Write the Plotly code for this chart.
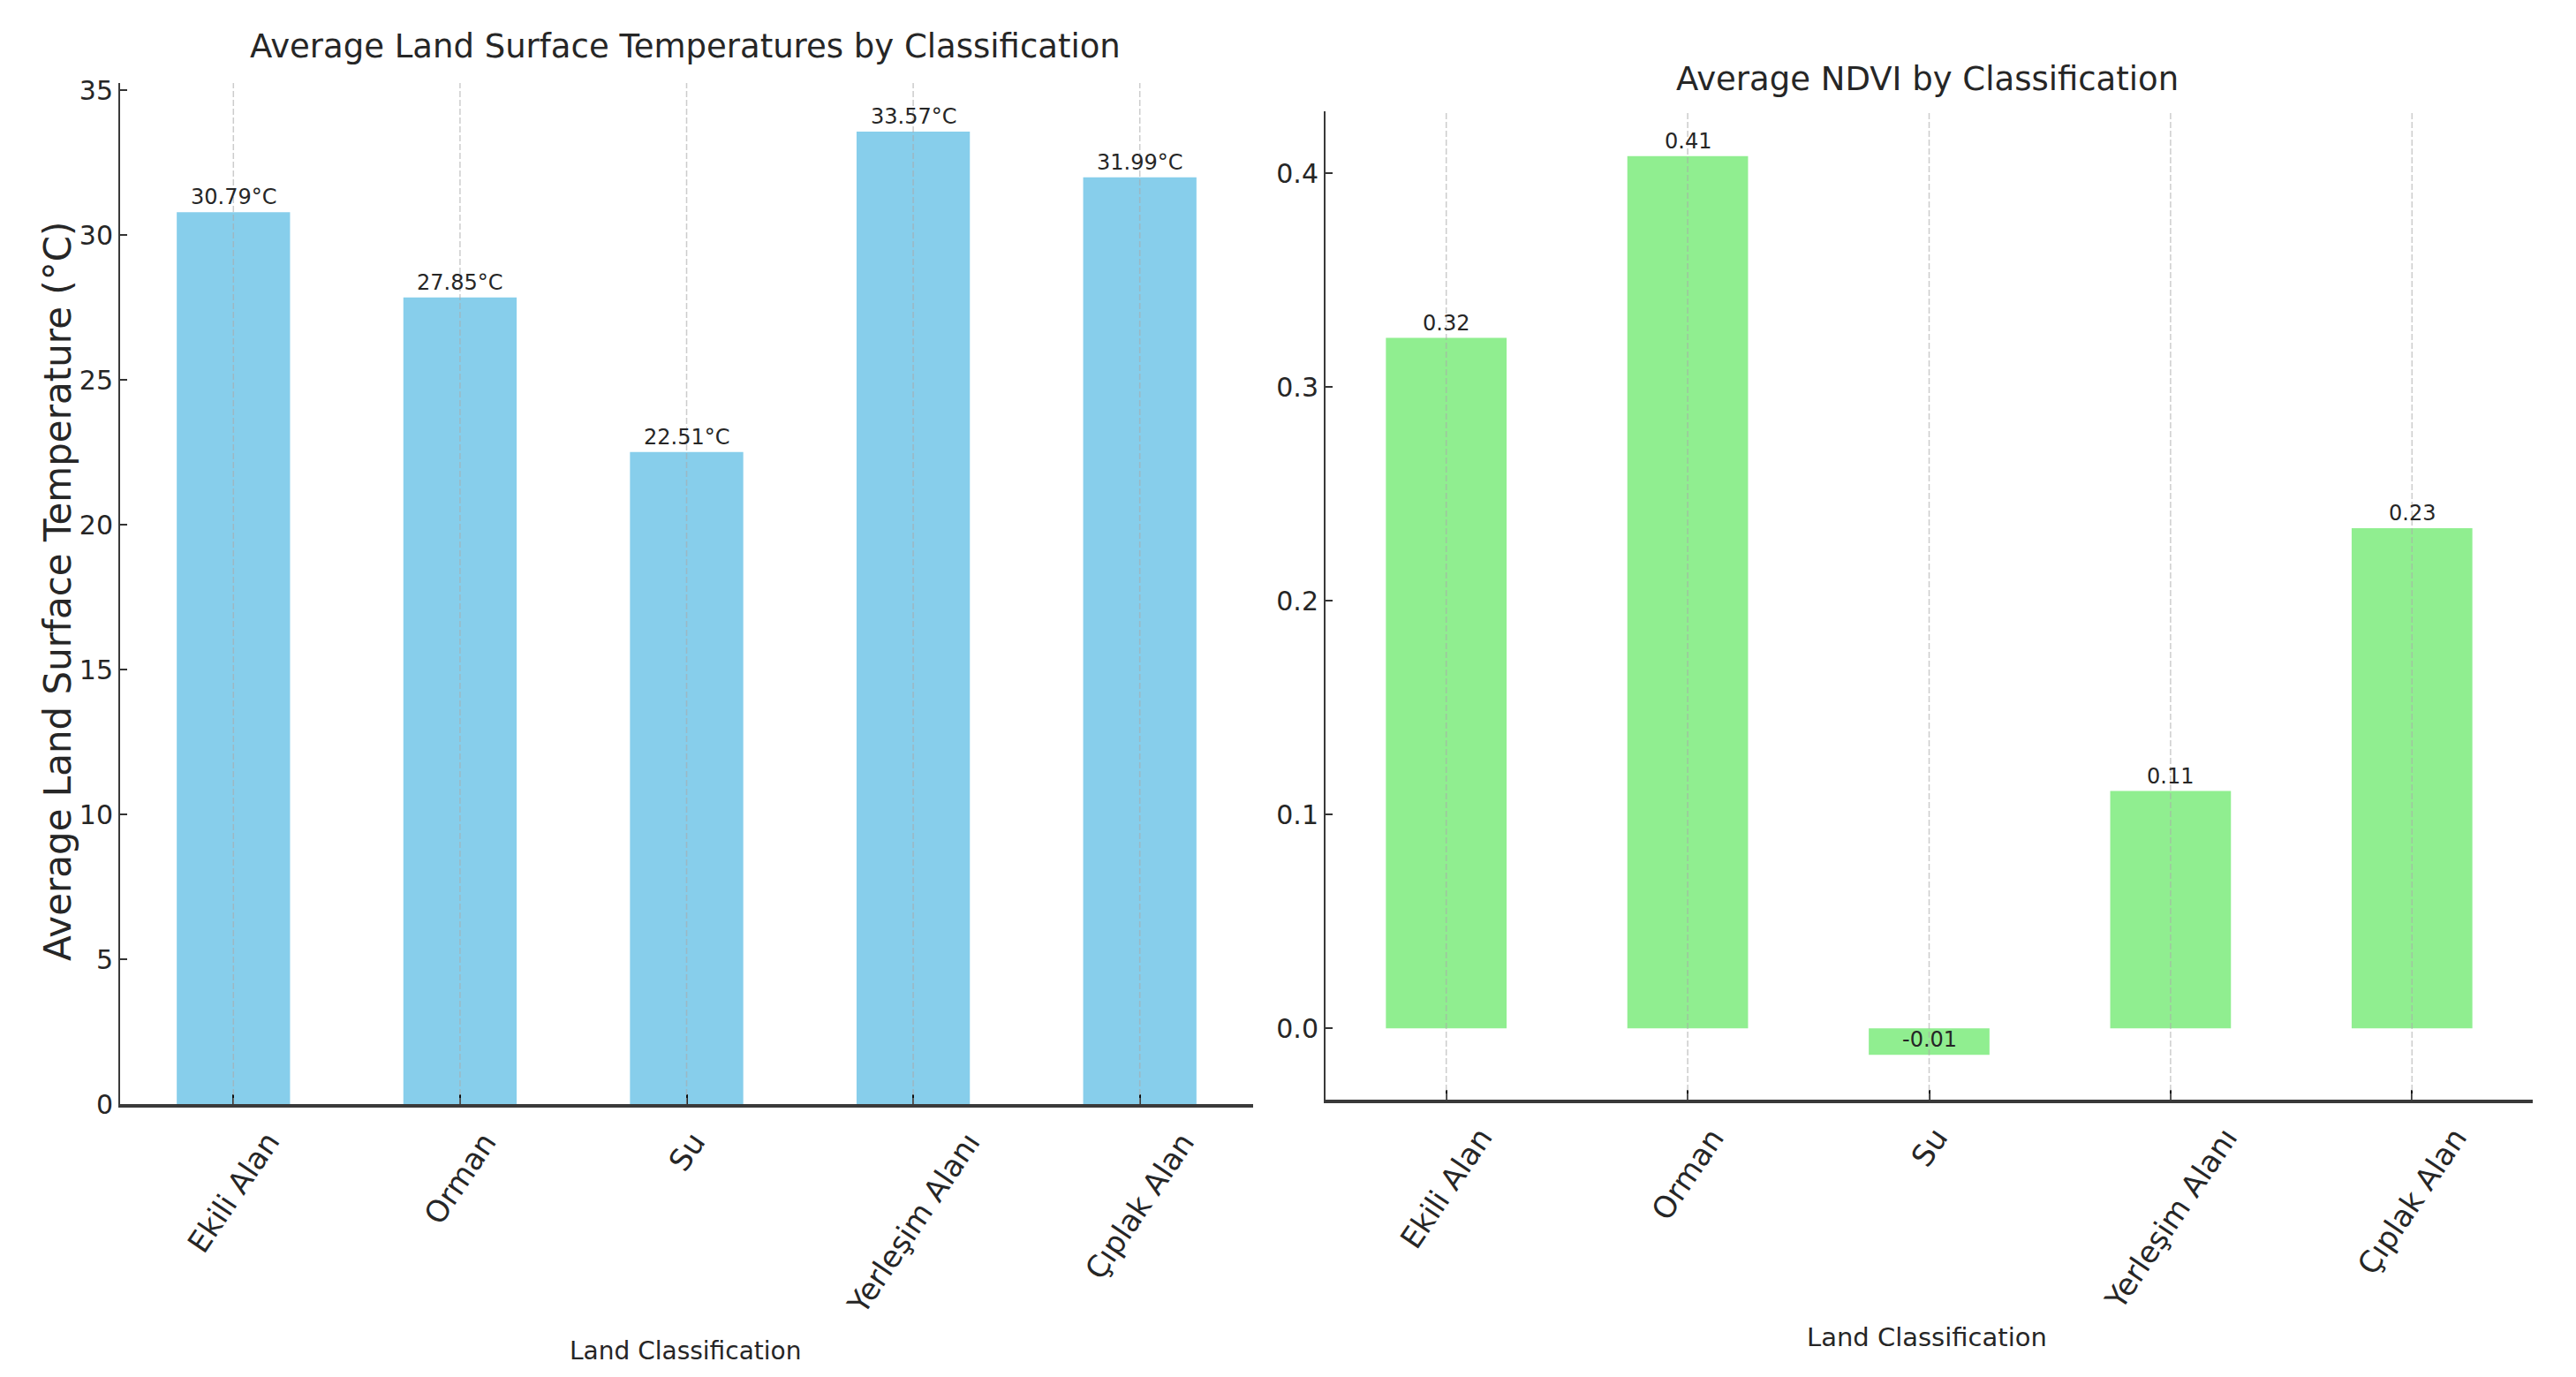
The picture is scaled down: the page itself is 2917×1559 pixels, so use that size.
import plotly.graph_objects as go

# ---------------- data ----------------
categories = ["Ekili Alan", "Orman", "Su", "Yerleşim Alanı", "Çıplak Alan"]
lst_values = [30.79, 27.85, 22.51, 33.57, 31.99]
ndvi_values = [0.323, 0.408, -0.0124, 0.111, 0.234]

lst_title = "Average Land Surface Temperatures by Classification"
ndvi_title = "Average NDVI by Classification"
x_title = "Land Classification"
lst_ytitle = "Average Land Surface Temperature (°C)"

# ---------------- style ----------------
W, H = 2917, 1559
FONT = "DejaVu Sans"
TXT = "#262626"
BLUE = "#87CEEB"
GREEN = "#90EE90"


def px_x(p):
    return p / W


def px_y(p):
    return 1 - p / H


def mpl_range(vals, sticky_zero=True):
    lo, hi = min(vals), max(vals)
    pad = 0.05 * (hi - min(lo, 0))
    lo_r = 0 if (sticky_zero and lo >= 0) else lo - pad
    return [lo_r, hi + pad]


fig = go.Figure()

fig.add_trace(go.Bar(x=categories, y=lst_values, marker=dict(color=BLUE, line=dict(width=0)),
                     width=0.5, xaxis="x", yaxis="y", showlegend=False, hoverinfo="skip"))
fig.add_trace(go.Bar(x=categories, y=ndvi_values, marker=dict(color=GREEN, line=dict(width=0)),
                     width=0.5, xaxis="x2", yaxis="y2", showlegend=False, hoverinfo="skip"))

common_x = dict(type="category", range=[-0.5, 4.5], showgrid=False, zeroline=False,
                showline=True, linecolor="#3a3a3a", linewidth=4, automargin=False,
                ticks="inside", ticklen=11, tickwidth=2, tickcolor="#111",
                showticklabels=False, fixedrange=True)
common_y = dict(showgrid=False, zeroline=False, showline=True, linecolor="#3a3a3a", linewidth=2,
                ticks="inside", ticklen=8, tickwidth=2, tickcolor="#333", automargin=False,
                tickfont=dict(family=FONT, size=30, color=TXT), fixedrange=True)

fig.update_layout(
    template="none",
    width=W, height=H, autosize=False,
    margin=dict(l=0, r=0, t=0, b=0, pad=0, autoexpand=False),
    paper_bgcolor="white", plot_bgcolor="white",
    bargap=0.5,
    xaxis=dict(domain=[px_x(136), px_x(1419)], anchor="y", **common_x),
    xaxis2=dict(domain=[px_x(1501), px_x(2868)], anchor="y2", **common_x),
    yaxis=dict(domain=[px_y(1250), px_y(94)], anchor="x", range=mpl_range(lst_values),
               tickmode="array", tickvals=[0, 5, 10, 15, 20, 25, 30, 35], **common_y),
    yaxis2=dict(domain=[px_y(1245), px_y(126)], anchor="x2", range=mpl_range(ndvi_values),
                tickmode="array", tickvals=[0.0, 0.1, 0.2, 0.3, 0.4], tickformat=".1f", **common_y),
)

shapes = []
annotations = []
for xa, ya, yd in (("x", "y", "y domain"), ("x2", "y2", "y2 domain")):
    for c in categories:
        # dashed vertical grid lines (drawn above bars, like matplotlib)
        shapes.append(dict(type="line", xref=xa, yref=yd, x0=c, x1=c, y0=0, y1=1,
                           line=dict(color="rgba(170,170,170,0.6)", width=1.5, dash="7px,3px"),
                           layer="above"))
        # rotated category labels, centred under the tick
        annotations.append(dict(text=c, xref=xa, yref=yd, x=c, y=0, xanchor="center", yanchor="top",
                                yshift=-22, textangle=-56, showarrow=False,
                                font=dict(family=FONT, size=34, color=TXT)))

# value labels
for c, v in zip(categories, lst_values):
    annotations.append(dict(text=f"{v:.2f}°C", xref="x", yref="y", x=c, y=v, xanchor="center",
                            yanchor="bottom", yshift=1, showarrow=False,
                            font=dict(family=FONT, size=24, color=TXT)))
for c, v in zip(categories, ndvi_values):
    annotations.append(dict(text=f"{v:.2f}", xref="x2", yref="y2", x=c, y=v, xanchor="center",
                            yanchor="bottom", yshift=1, showarrow=False,
                            font=dict(family=FONT, size=24, color=TXT)))

# titles
annotations += [
    dict(text=lst_title, xref="paper", yref="paper", x=px_x(776), y=px_y(52), xanchor="center",
         yanchor="middle", showarrow=False, font=dict(family=FONT, size=37, color=TXT)),
    dict(text=ndvi_title, xref="paper", yref="paper", x=px_x(2182), y=px_y(89), xanchor="center",
         yanchor="middle", showarrow=False, font=dict(family=FONT, size=37, color=TXT)),
    dict(text=x_title, xref="paper", yref="paper", x=px_x(776), y=px_y(1529), xanchor="center",
         yanchor="middle", showarrow=False, font=dict(family=FONT, size=28, color=TXT)),
    dict(text=x_title, xref="paper", yref="paper", x=px_x(2182), y=px_y(1514), xanchor="center",
         yanchor="middle", showarrow=False, font=dict(family=FONT, size=29, color=TXT)),
    dict(text=lst_ytitle, xref="paper", yref="paper", x=px_x(65), y=px_y(670), xanchor="center",
         yanchor="middle", textangle=-90, showarrow=False, font=dict(family=FONT, size=42, color=TXT)),
]

fig.update_layout(shapes=shapes, annotations=annotations)

fig.write_html(
    "out.html",
    config={"displayModeBar": False},
    post_script=(
        "document.documentElement.style.margin='0';"
        "document.body.style.margin='0';"
        "document.body.style.overflow='hidden';"
        "document.documentElement.style.overflow='hidden';"
        "var gd=document.getElementById('{plot_id}');"
        "gd.style.position='fixed';gd.style.top='0';gd.style.left='0';"
    ),
)
